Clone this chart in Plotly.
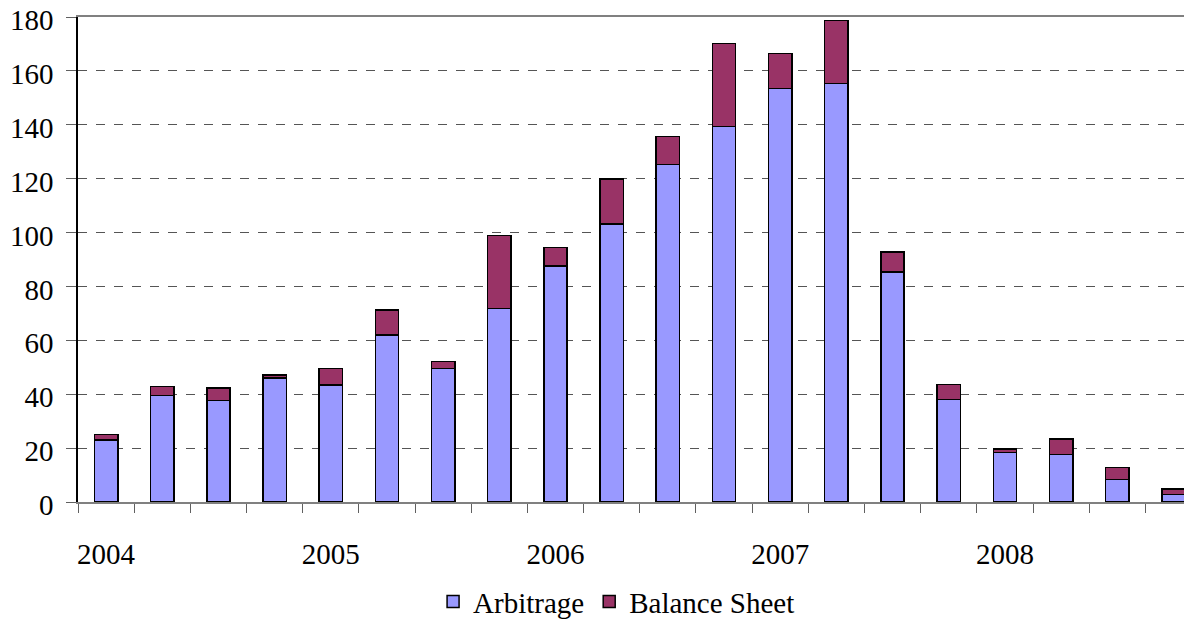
import plotly.graph_objects as go

# quarterly deals, 2004 Q1 .. 2008 Q4
quarters = list(range(20))
year_ticks = [0, 4, 8, 12, 16]
year_labels = ["2004", "2005", "2006", "2007", "2008"]

arbitrage = [23, 39.6, 37.7, 46, 43.4, 61.9, 49.6, 71.8, 87.6, 103.1,
             125.2, 139.3, 153.4, 155.3, 85.3, 38, 18.3, 17.7, 8.4, 2.7]
balance_sheet = [2, 3.3, 4.6, 1.1, 6.2, 9.3, 2.6, 27.1, 6.9, 16.7,
                 10.5, 30.9, 13, 23.4, 7.4, 5.6, 1.3, 5.6, 4.4, 2.1]

font = "Liberation Serif, Times New Roman, serif"

fig = go.Figure()
fig.add_trace(go.Bar(x=quarters, y=arbitrage, name="Arbitrage",
                     marker=dict(color="#9999FF", line=dict(color="black", width=1.5))))
fig.add_trace(go.Bar(x=quarters, y=balance_sheet, name="Balance Sheet",
                     marker=dict(color="#993366", line=dict(color="black", width=1.5))))

# page body has an 8px margin, so the figure is a bit smaller than the window
fig.update_layout(
    barmode="stack",
    bargap=0.585,
    width=1184, height=614,
    margin=dict(l=70, r=0, t=9, b=120),
    plot_bgcolor="white", paper_bgcolor="white",
    font=dict(family=font, size=29, color="black"),
    legend=dict(orientation="h", xref="container", yref="container",
                x=0.514, xanchor="center", y=0.033, yanchor="middle",
                font=dict(family=font, size=29, color="black"),
                itemwidth=30, traceorder="normal"),
)
fig.update_xaxes(
    range=[-0.5, 19.33],
    tickvals=year_ticks, ticktext=year_labels,
    ticks="", ticklabelstandoff=25,
    showgrid=False, zeroline=False,
    showline=True, linecolor="#808080", linewidth=1.5,
    mirror=True, automargin=False,
    minor=dict(tick0=-0.5, dtick=1, ticks="outside", ticklen=9, tickcolor="#606060", tickwidth=1),
)
fig.update_yaxes(
    range=[0, 180], dtick=20,
    ticks="outside", ticklen=10, tickcolor="#606060",
    showline=True, linecolor="black", linewidth=1.5,
    gridcolor="#555555", griddash="dash", gridwidth=1,
    zeroline=False, automargin=False,
    ticklabelstandoff=7, ticklabelshift=3, ticklabeloverflow="allow",
)

fig.write_html("out.html")
